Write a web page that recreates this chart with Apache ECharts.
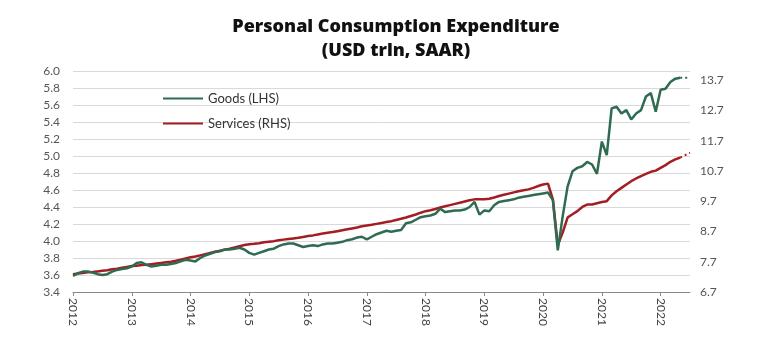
<!DOCTYPE html>
<html>
<head>
<meta charset="utf-8">
<script src="https://cdn.jsdelivr.net/npm/echarts@6/dist/echarts.min.js"></script>
<style>html,body{margin:0;padding:0;background:#fff;}#c{width:783px;height:346px;}</style>
</head>
<body>
<div id="c"></div>
<script>
// Monthly categories Jan 2012 .. Jul 2022
const months = [];
for (let y = 2012; y <= 2022; y++) {
  for (let m = 1; m <= 12; m++) {
    if (y === 2022 && m > 7) break;
    months.push(y + '-' + String(m).padStart(2, '0'));
  }
}
// Goods PCE, USD trln (LHS), Jan 2012 .. May 2022
const goods = [
  3.59, 3.62, 3.64, 3.64, 3.63, 3.61, 3.60, 3.61, 3.64, 3.66, 3.67, 3.68,
  3.70, 3.74, 3.75, 3.72, 3.70, 3.71, 3.72, 3.72, 3.73, 3.74, 3.76, 3.78,
  3.77, 3.76, 3.80, 3.83, 3.85, 3.87, 3.88, 3.90, 3.90, 3.91, 3.92, 3.90,
  3.86, 3.84, 3.86, 3.88, 3.90, 3.91, 3.94, 3.96, 3.97, 3.97, 3.95, 3.93,
  3.94, 3.95, 3.94, 3.96, 3.97, 3.97, 3.98, 3.99, 4.01, 4.02, 4.04, 4.05,
  4.02, 4.05, 4.08, 4.10, 4.12, 4.11, 4.12, 4.13, 4.21, 4.22, 4.25, 4.28,
  4.29, 4.30, 4.32, 4.38, 4.34, 4.35, 4.36, 4.36, 4.37, 4.40, 4.46, 4.31,
  4.36, 4.35, 4.42, 4.46, 4.47, 4.48, 4.49, 4.51, 4.52, 4.53, 4.54, 4.55,
  4.56, 4.57, 4.48, 3.89, 4.29, 4.64, 4.82, 4.86, 4.88, 4.93, 4.90, 4.79,
  5.17, 5.01, 5.56, 5.58, 5.50, 5.54, 5.43, 5.50, 5.54, 5.70, 5.74, 5.52,
  5.78, 5.79, 5.87, 5.91, 5.92
];
// Services PCE, USD trln (RHS), Jan 2012 .. May 2022
const services = [
  7.29, 7.31, 7.33, 7.35, 7.36, 7.38, 7.40, 7.42, 7.45, 7.47, 7.50, 7.53,
  7.56, 7.57, 7.59, 7.60, 7.62, 7.64, 7.66, 7.68, 7.70, 7.73, 7.77, 7.81,
  7.85, 7.87, 7.91, 7.95, 7.99, 8.03, 8.06, 8.10, 8.13, 8.17, 8.21, 8.25,
  8.28, 8.29, 8.31, 8.34, 8.36, 8.38, 8.41, 8.43, 8.45, 8.47, 8.49, 8.52,
  8.55, 8.57, 8.60, 8.63, 8.66, 8.68, 8.71, 8.74, 8.77, 8.80, 8.83, 8.87,
  8.90, 8.92, 8.95, 8.98, 9.01, 9.04, 9.08, 9.12, 9.16, 9.21, 9.26, 9.32,
  9.37, 9.40, 9.44, 9.49, 9.53, 9.57, 9.61, 9.65, 9.69, 9.73, 9.76, 9.76,
  9.76, 9.78, 9.82, 9.87, 9.91, 9.95, 9.99, 10.03, 10.06, 10.09, 10.14, 10.20,
  10.25, 10.28, 9.76, 8.25, 8.66, 9.16, 9.27, 9.37, 9.51, 9.59, 9.59, 9.63,
  9.67, 9.70, 9.89, 10.03, 10.14, 10.25, 10.36, 10.45, 10.53, 10.60, 10.67, 10.71,
  10.80, 10.89, 11.00, 11.08, 11.14
];
// Dotted extensions May .. Jul 2022
const goodsExt = [5.92, 5.92, 5.92];
const servicesExt = [11.14, 11.22, 11.30];

const leftTicks = { min: 3.4, max: 6.0, interval: 0.2 };
const rightTicks = { min: 6.7, max: 14.0, interval: 1 };

function pad(arr, ext) {
  const out = new Array(months.length).fill(null);
  const start = months.length - ext.length;
  ext.forEach((v, i) => { out[start + i] = v; });
  return out;
}

const GREEN = '#2f6b50';
const RED = '#a31d22';
const font = 'Lato, "Open Sans", sans-serif';

const chart = echarts.init(document.getElementById('c'), null, { renderer: 'canvas' });
const isJan = (idx, val) => String(val).endsWith('-01');

chart.setOption({
  animation: false,
  backgroundColor: '#fff',
  title: {
    text: 'Personal Consumption Expenditure\n(USD trln, SAAR)',
    left: 391,
    textAlign: 'center',
    top: 10,
    textStyle: { fontFamily: '"Open Sans", Lato, sans-serif', fontWeight: 800, fontSize: 18, lineHeight: 24, color: '#111' }
  },
  legend: {
    data: [
      { name: 'Goods (LHS)', icon: 'rect' },
      { name: 'Services (RHS)', icon: 'rect' }
    ],
    orient: 'vertical',
    left: 158,
    top: 87,
    itemWidth: 40,
    itemHeight: 2,
    itemGap: 12,
    textStyle: { fontFamily: font, fontSize: 13, color: '#333' }
  },
  grid: { left: 73, right: 93, top: 71, bottom: 54, containLabel: false },
  xAxis: {
    type: 'category',
    data: months,
    boundaryGap: false,
    axisLine: { lineStyle: { color: '#888', width: 1 } },
    axisTick: { show: true, interval: isJan, length: 4, lineStyle: { color: '#888' } },
    axisLabel: {
      interval: isJan,
      formatter: v => v.slice(0, 4),
      rotate: -90,
      margin: 6,
      fontFamily: font,
      fontSize: 12,
      color: '#444'
    },
    splitLine: { show: false }
  },
  yAxis: [
    {
      type: 'value',
      min: leftTicks.min, max: leftTicks.max, interval: leftTicks.interval,
      axisLine: { show: false },
      axisTick: { show: false },
      axisLabel: { formatter: v => v.toFixed(1), margin: 13, fontFamily: font, fontSize: 12, color: '#555' },
      splitLine: { show: true, lineStyle: { color: '#d9d9d9', width: 1 } }
    },
    {
      type: 'value',
      position: 'right',
      min: rightTicks.min, max: rightTicks.max, interval: rightTicks.interval,
      axisLine: { show: false },
      axisTick: { show: false },
      axisLabel: { formatter: v => v.toFixed(1), showMaxLabel: false, margin: 10, fontFamily: font, fontSize: 12, color: '#555' },
      splitLine: { show: false }
    }
  ],
  series: [
    {
      name: 'Services (RHS)', type: 'line', yAxisIndex: 1, data: services,
      showSymbol: false, symbol: 'none', itemStyle: { color: RED },
      lineStyle: { color: RED, width: 2.5 }, z: 2
    },
    {
      name: 'Goods (LHS)', type: 'line', yAxisIndex: 0, data: goods,
      showSymbol: false, symbol: 'none', itemStyle: { color: GREEN },
      lineStyle: { color: GREEN, width: 2.5 }, z: 3
    },
    {
      name: 'goods-ext', type: 'line', yAxisIndex: 0, data: pad(months, goodsExt),
      showSymbol: false, symbol: 'none', connectNulls: false,
      lineStyle: { color: GREEN, width: 2, type: [2, 3] }, z: 3
    },
    {
      name: 'services-ext', type: 'line', yAxisIndex: 1, data: pad(months, servicesExt),
      showSymbol: false, symbol: 'none', connectNulls: false,
      lineStyle: { color: RED, width: 2, type: [2, 3] }, z: 2
    }
  ]
});
</script>
</body>
</html>
